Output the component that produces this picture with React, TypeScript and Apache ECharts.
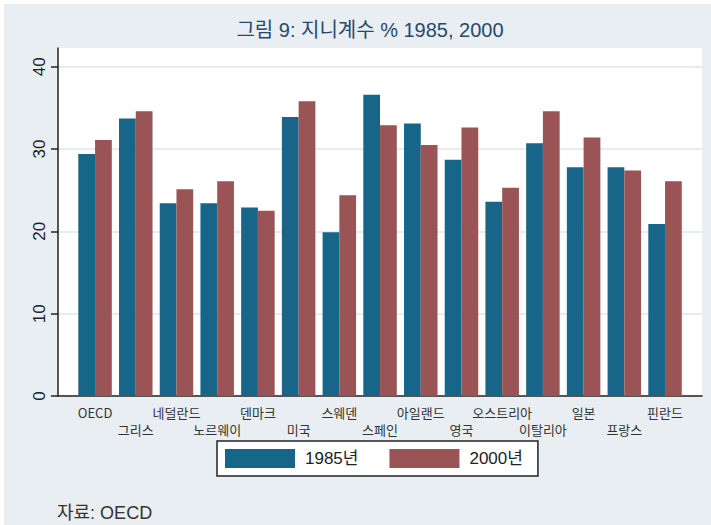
import React, { useEffect, useRef } from "react";
import * as echarts from "echarts";

const categories = [
  "OECD", "그리스", "네덜란드", "노르웨이", "덴마크", "미국", "스웨덴", "스페인",
  "아일랜드", "영국", "오스트리아", "이탈리아", "일본", "프랑스", "핀란드",
];
const values1985 = [29.4, 33.7, 23.4, 23.4, 22.9, 33.9, 19.9, 36.6, 33.1, 28.7, 23.6, 30.7, 27.8, 27.8, 20.9];
const values2000 = [31.1, 34.6, 25.1, 26.1, 22.5, 35.8, 24.4, 32.9, 30.5, 32.6, 25.3, 34.6, 31.4, 27.4, 26.1];
const seriesNames = ["1985년", "2000년"];
const titleText = "그림 9: 지니계수 % 1985, 2000";
const sourceText = "자료: OECD";

const BLUE = "#17668a";
const RED = "#9b5456";
const SANS = "'Liberation Sans', Arial, 'Noto Sans CJK KR', sans-serif";

export default function App() {
  const ref = useRef<HTMLDivElement>(null);
  useEffect(() => {
    if (!ref.current) return;
    const chart = echarts.init(ref.current, undefined, { renderer: "svg" });
    chart.setOption({
      animation: false,
      grid: [
        { left: 58, right: 9, top: 48, bottom: 129, show: true, backgroundColor: "#ffffff", borderWidth: 0 },
        { left: 58, right: 9, top: 66.7, bottom: 129 },
        { left: 74.7, right: 25.6, top: 66.7, bottom: 129 },
      ],
      xAxis: [
        {
          gridIndex: 0, type: "value", min: 0, max: 1,
          axisLine: { show: true, onZero: false, lineStyle: { color: "#222", width: 1.5 } },
          axisTick: { show: false }, axisLabel: { show: false }, splitLine: { show: false },
        },
        { gridIndex: 1, type: "value", min: 0, max: 1, show: false },
        {
          gridIndex: 2, type: "category", data: categories,
          axisLine: { show: false }, axisTick: { show: false },
          axisLabel: {
            interval: 0, margin: 8, fontSize: 13, lineHeight: 17, color: "#333",
            fontFamily: "'Noto Sans CJK KR', sans-serif", hideOverlap: false,
            formatter: (v: string, i: number) => (i % 2 ? "\n" + v : v),
          },
        },
      ],
      yAxis: [
        {
          gridIndex: 0, type: "value", min: 0, max: 1,
          axisLine: { show: true, lineStyle: { color: "#222", width: 1.5 } },
          axisTick: { show: false }, axisLabel: { show: false }, splitLine: { show: false },
        },
        {
          gridIndex: 1, type: "value", min: 0, max: 40, interval: 10,
          axisLine: { show: false },
          axisTick: { show: true, length: 7, lineStyle: { color: "#222", width: 1.5 } },
          axisLabel: { rotate: 90, margin: 10, fontSize: 17, color: "#222", fontFamily: SANS },
          splitLine: { show: true, lineStyle: { color: "#e6edf2", width: 2 } },
        },
        { gridIndex: 2, type: "value", min: 0, max: 40, show: false },
      ],
      legend: {
        left: 217, top: 441,
        padding: [8, 15, 8, 8],
        itemWidth: 70, itemHeight: 19, itemGap: 31,
        icon: "rect",
        backgroundColor: "#ffffff",
        borderColor: "#222", borderWidth: 1.5,
        textStyle: { fontSize: 17, color: "#222", fontFamily: SANS, padding: [0, 0, 0, 5] },
        data: seriesNames,
      },
      series: [
        {
          name: seriesNames[0], type: "bar", xAxisIndex: 2, yAxisIndex: 2,
          data: values1985, barWidth: 16.75, barGap: "0%",
          itemStyle: { color: BLUE },
        },
        {
          name: seriesNames[1], type: "bar", xAxisIndex: 2, yAxisIndex: 2,
          data: values2000, barWidth: 16.75, barGap: "0%",
          itemStyle: { color: RED },
        },
      ],
      graphic: [
        {
          type: "text", x: 370, y: 30,
          style: {
            text: titleText, textAlign: "center", textVerticalAlign: "middle",
            fontSize: 20, fill: "#264a6e", fontFamily: SANS,
          },
        },
        {
          type: "text", x: 57, y: 513,
          style: {
            text: sourceText, textAlign: "left", textVerticalAlign: "middle",
            fontSize: 18, fill: "#333", fontFamily: SANS,
          },
        },
      ],
    });
    return () => chart.dispose();
  }, []);
  return (
    <div
      ref={ref}
      style={{
        position: "absolute", left: 0, top: 0, width: 711, height: 525,
        background: "#e8eef2", boxShadow: "inset 4px 4px 0 #ffffff",
      }}
    />
  );
}
